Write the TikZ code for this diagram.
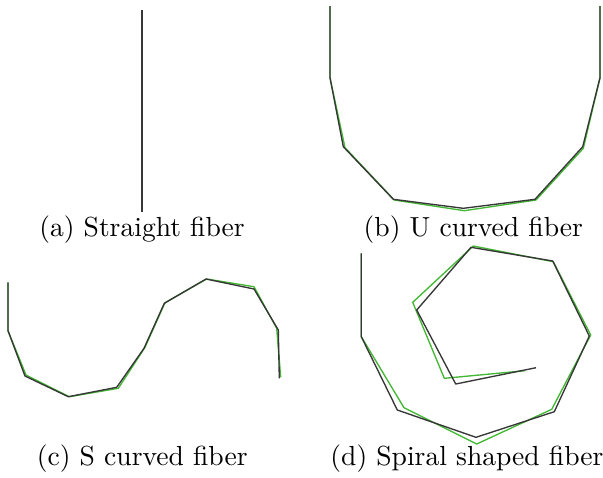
\documentclass[tikz,border=0pt]{standalone}
\usepackage{xcolor}
\definecolor{simgreen}{RGB}{68,184,52}
\definecolor{fibgray}{RGB}{55,55,55}
\begin{document}
\begin{tikzpicture}[x=0.37pt,y=-0.37pt,
  fib/.style={draw=fibgray,line width=0.5pt,line join=round},
  sim/.style={draw=simgreen,line width=0.5pt,line join=round},
  captext/.style={font=\fontsize{10.2}{12}\selectfont,inner sep=0pt}]
\clip (0,0) rectangle (603,477);
\useasboundingbox (0,0) rectangle (603,477);
% (a) straight
\draw[sim] (142,10) -- (142,212);
\draw[fib] (142,10) -- (142,212);
\node[captext,anchor=base] (capa) at (142,236.7) {(a) Straight fiber};
% (b) U curved
\draw[sim] (330,6) -- (330,77.7) -- (345,147.7) -- (394.3,200) -- (464.3,210.7) -- (536,200) -- (583.3,148.3) -- (600,77.7) -- (600,6);
\draw[fib] (330,6) -- (330,77.7) -- (343.3,146.7) -- (393.3,199.3) -- (463.3,208.3) -- (535,199.3) -- (582.7,146.7) -- (600,77.7) -- (600,6);
\node[captext,anchor=base] (capb) at (473.3,236.7) {(b) U curved fiber};
% (c) S curved
\draw[sim] (8,282.3) -- (8,330.7) -- (26,375) -- (69.3,396.7) -- (118.3,388.3) -- (145,347.3) -- (165,302.7) -- (206.7,279) -- (254,286.7) -- (276.7,328.3) -- (280.7,377.3);
\draw[fib] (8,282.3) -- (8,330.7) -- (25,376) -- (68.3,396.7) -- (116.7,387.3) -- (144,348.3) -- (164.3,303.3) -- (206,279) -- (254,289) -- (278.3,330) -- (279.3,378.3);
\node[captext,anchor=base] (capc) at (142.2,465.7) {(c) S curved fiber};
% (d) spiral
\draw[sim] (361.3,253.3) -- (361.3,336.7) -- (404,407.7) -- (476.7,444) -- (551.7,409.3) -- (590.7,335) -- (553.3,261.7) -- (473.3,246) -- (412.7,302.3) -- (444.3,378.3) -- (525,370.7);
\draw[fib] (361.3,253.3) -- (361.3,336.7) -- (397.3,410) -- (476,437.3) -- (554.3,411.7) -- (589.3,336) -- (552.7,261) -- (471,247.3) -- (416.7,310) -- (455.7,384) -- (536,367.7);
\node[captext,anchor=base east] (capd) at (604,465.7) {(d) Spiral shaped fiber};
\end{tikzpicture}
\end{document}
